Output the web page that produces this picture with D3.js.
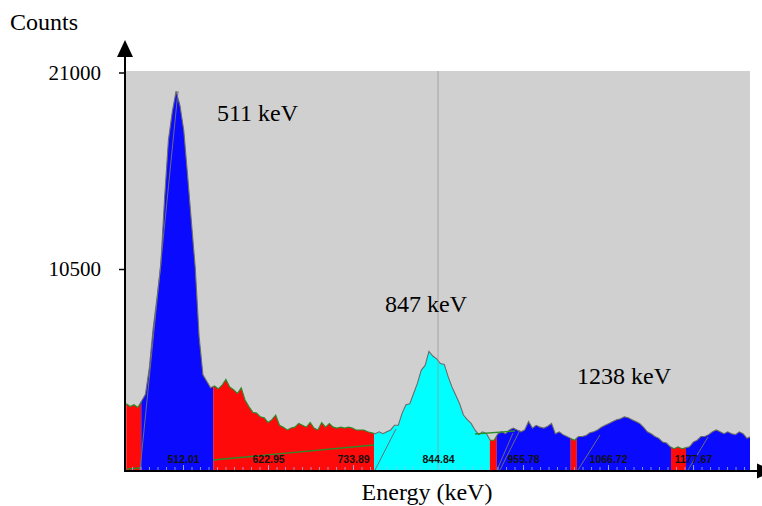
<!DOCTYPE html>
<html><head><meta charset="utf-8">
<script src="https://cdn.jsdelivr.net/npm/d3@7"></script>
<style>
html,body{margin:0;padding:0;background:#fff;}
svg{display:block;}
</style></head>
<body>
<svg id="chart" width="762" height="506"></svg>
<script>
// ---- data ----
const startEnergy = 438;      // keV of first bin
const keVPerBin = 5;          // calibration
const counts = [
3300,3150,3250,3100,3450,3800,5200,7300,8950,10700,
14300,17400,18900,20000,19250,17900,15500,13000,10550,6900,
4850,4500,4150,4250,4100,4300,4600,4200,4050,3850,
4150,3500,3150,2850,2800,2600,2550,2300,2450,2700,
2150,2050,1900,2000,2050,2250,2150,2050,2300,2000,
1900,2300,2050,2250,2050,2000,2050,2000,2050,2000,
1900,1900,1900,1800,1750,1700,1800,1700,1800,1900,
2150,2150,2800,3250,3300,3850,4400,5100,5350,6100,
5850,5700,5450,5400,4750,4200,3750,3300,2700,2450,
2250,1900,1650,1800,1700,1350,1350,1700,1800,1700,
1900,2000,1900,1800,1900,2350,2000,2150,2050,2000,
2100,2250,1700,1800,1650,1550,1450,1350,1550,1550,
1600,1750,1800,1900,2050,2150,2250,2350,2450,2500,
2600,2550,2450,2350,2250,2050,1800,1700,1550,1450,
1250,1200,1000,900,1000,900,950,1000,1250,1350,
1550,1550,1650,1800,1900,1800,1700,1800,1700,1650,
1800,1700,1450,1550
];
const regionStarts = [437.6, 457.5, 551.5, 761.5, 912.5, 921.5, 1018, 1026, 1149, 1168.5];
const regionEnds   = [457.5, 551.5, 761.5, 912.5, 921.5, 1018, 1026, 1149, 1168.5, 1252];
const regionTypes  = ["bg","peak","bg","sel","bg","peak","bg","peak","bg","peak"];
const channelLabels = ["512.01","622.95","733.89","844.84","955.78","1066.72","1177.67"];
const yTickValues = [10500, 21000];
const peakLabels = ["511 keV","847 keV","1238 keV"];
// background / fit lines: [e1, c1, e2, c2]
const greenLines = [[438.9,-187,455.9,-133],[551.2,294,761.3,1096],[893.1,1683,945.3,1844]];
const grayLines  = [[455.9,-240,505.5,20000],[762.6,-240,790.0,1951],[921.8,-240,942.7,1737],
                    [925.7,-240,951.8,1897],[1027.5,-240,1056.2,1630],[1171.1,-240,1197.2,1523]];
const cursorEnergy = 844.84;

// ---- layout ----
const svg = d3.select("#chart");
const L = 126, R = 750, T = 71, B = 470;
const x = d3.scaleLinear().domain([437.6, 1252]).range([L, R]);
const y = d3.scaleLinear().domain([-240, 21000]).range([B, 72.5]);
const serif = "'Liberation Serif','Times New Roman',Times,serif";
const fillColor = {bg:"#ff0a0a", peak:"#0a0aff", sel:"#00ffff"};
const lineColor = {bg:"#2a8c2a", peak:"#6b6b6b", sel:"#6b6b6b"};

const data = counts.map((c,i)=>({e: startEnergy + i*keVPerBin, c}));

svg.append("rect").attr("x",L).attr("y",T).attr("width",R-L).attr("height",B-T).attr("fill","#d0d0d0");

const defs = svg.append("defs");
regionStarts.forEach((s,i)=>{
  defs.append("clipPath").attr("id","rg"+i).append("rect")
    .attr("x", x(s)).attr("y", T).attr("width", x(regionEnds[i]) - x(s)).attr("height", B-T);
});
defs.append("clipPath").attr("id","plot").append("rect").attr("x",L).attr("y",T).attr("width",R-L).attr("height",B-T);

const area = d3.area().x(d=>x(d.e)).y0(B).y1(d=>y(d.c));
const line = d3.line().x(d=>x(d.e)).y(d=>y(d.c));

regionStarts.forEach((s,i)=>{
  const g = svg.append("g").attr("clip-path","url(#rg"+i+")");
  g.append("path").datum(data).attr("d",area).attr("fill",fillColor[regionTypes[i]]);
  g.append("path").datum(data).attr("d",line).attr("fill","none")
    .attr("stroke",lineColor[regionTypes[i]]).attr("stroke-width",1.1);
});

const pg = svg.append("g").attr("clip-path","url(#plot)");
// cursor line
pg.append("line").attr("x1",x(cursorEnergy)).attr("x2",x(cursorEnergy)).attr("y1",T).attr("y2",B)
  .attr("stroke","rgba(150,150,150,0.5)").attr("stroke-width",1.5);
// fit lines
greenLines.forEach(l=>pg.append("line").attr("x1",x(l[0])).attr("y1",y(l[1])).attr("x2",x(l[2])).attr("y2",y(l[3]))
  .attr("stroke","#2a8c2a").attr("stroke-width",1.3));
grayLines.forEach(l=>pg.append("line").attr("x1",x(l[0])).attr("y1",y(l[1])).attr("x2",x(l[2])).attr("y2",y(l[3]))
  .attr("stroke","#6b6b7b").attr("stroke-width",1));

// energy ticks (inside plot bottom)
const labelVals = channelLabels.map(Number);
const step = labelVals[1]-labelVals[0];
const minorVals = d3.range(-7, 68).map(k=>labelVals[0] + k*step/10).filter(v=>v>437.8 && v<1251.5);
const minorAxis = svg.append("g").attr("transform",`translate(0,${B})`)
  .call(d3.axisTop(x).tickValues(minorVals).tickSize(3).tickFormat(""));
minorAxis.select(".domain").remove();
minorAxis.selectAll("line").attr("stroke","rgba(150,180,230,0.8)");
const majorAxis = svg.append("g").attr("transform",`translate(0,${B})`)
  .call(d3.axisTop(x).tickValues(labelVals).tickSize(5).tickPadding(2).tickFormat((d,i)=>channelLabels[i]));
majorAxis.select(".domain").remove();
majorAxis.selectAll("line").attr("stroke","rgba(150,180,230,0.9)");
majorAxis.selectAll("text").attr("font-family","'Liberation Sans',Arial,sans-serif")
  .attr("font-size",10.5).attr("font-weight","bold").attr("fill","#111");

// y axis
const yAxis = svg.append("g").attr("transform","translate(125,0)")
  .call(d3.axisLeft(y).tickValues(yTickValues).tickSize(6).tickPadding(18).tickFormat(d3.format("d")));
yAxis.select(".domain").remove();
yAxis.selectAll("line").attr("stroke","#000").attr("stroke-width",1.5);
yAxis.selectAll("text").attr("font-family",serif).attr("font-size",21).attr("fill","#000");

// axis lines with arrows
svg.append("line").attr("x1",125).attr("x2",125).attr("y1",50).attr("y2",472).attr("stroke","#000").attr("stroke-width",2);
svg.append("path").attr("d","M125,40 L117,57 L133,57 Z").attr("fill","#000");
svg.append("line").attr("x1",124).attr("x2",760).attr("y1",471).attr("y2",471).attr("stroke","#000").attr("stroke-width",2);
svg.append("path").attr("d","M757,463.5 L757,478.5 L774,471 Z").attr("fill","#000");

// titles
svg.append("text").attr("x",10).attr("y",30).attr("font-family",serif).attr("font-size",24).text("Counts");
svg.append("text").attr("x",427).attr("y",500).attr("text-anchor","middle").attr("font-family",serif).attr("font-size",24).text("Energy (keV)");

// peak annotations
const annPos = [[217,121],[385,312],[577,384]];
peakLabels.forEach((t,i)=>svg.append("text").attr("x",annPos[i][0]).attr("y",annPos[i][1])
  .attr("font-family",serif).attr("font-size",24).attr("fill","#000").text(t));
</script>
</body></html>
